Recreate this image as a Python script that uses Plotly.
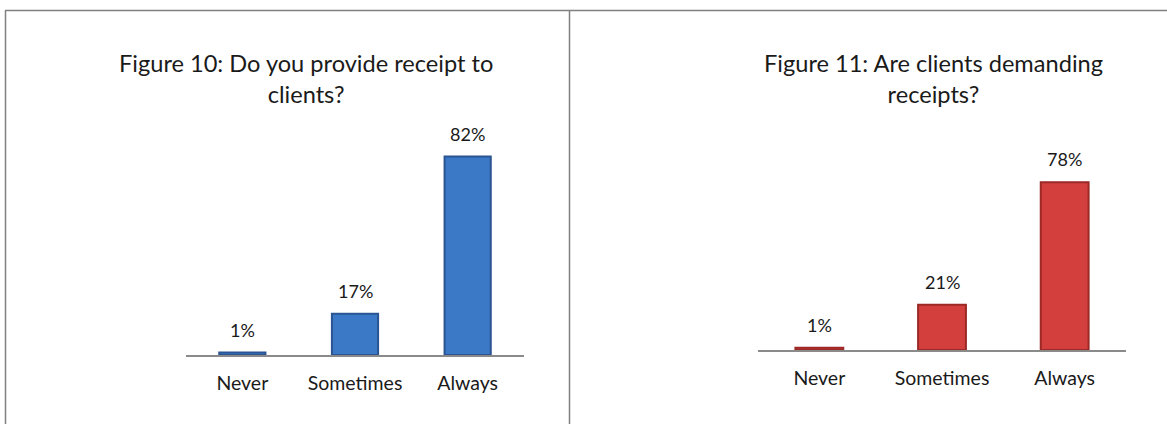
import plotly.graph_objects as go

# Survey responses (percent of respondents)
categories = ["Never", "Sometimes", "Always"]
provide_receipt = [1, 17, 82]
clients_demand = [1, 21, 78]

title_left = "Figure 10: Do you provide receipt to<br>clients?"
title_right = "Figure 11: Are clients demanding<br>receipts?"

W, H = 1167, 424
FONT = "Lato, 'Open Sans', sans-serif"
TXT = "#1a1a1a"
BORDER = "#808080"


def px_x(p):
    return p / W


def px_y(p):
    return 1 - p / H


fig = go.Figure()

fig.add_trace(go.Bar(
    x=categories, y=provide_receipt, xaxis="x", yaxis="y",
    marker=dict(color="#3b78c6", line=dict(color="#2a5592", width=2)),
    width=0.41, showlegend=False, hoverinfo="skip",
))
fig.add_trace(go.Bar(
    x=categories, y=clients_demand, xaxis="x2", yaxis="y2",
    marker=dict(color="#d23f3c", line=dict(color="#9c2926", width=2)),
    width=0.39, showlegend=False, hoverinfo="skip",
))

# value labels above each bar
for cat, v in zip(categories, provide_receipt):
    fig.add_annotation(x=cat, y=v, xref="x", yref="y", text=f"{v}%",
                       showarrow=False, yanchor="bottom", yshift=10,
                       font=dict(family=FONT, size=18, color=TXT))
for cat, v in zip(categories, clients_demand):
    fig.add_annotation(x=cat, y=v, xref="x2", yref="y2", text=f"{v}%",
                       showarrow=False, yanchor="bottom", yshift=10,
                       font=dict(family=FONT, size=18, color=TXT))

# chart titles
fig.add_annotation(x=px_x(306), y=px_y(47), xref="paper", yref="paper",
                   text=title_left, showarrow=False, xanchor="center", yanchor="top",
                   font=dict(family=FONT, size=23.6, color=TXT))
fig.add_annotation(x=px_x(933), y=px_y(47), xref="paper", yref="paper",
                   text=title_right, showarrow=False, xanchor="center", yanchor="top",
                   font=dict(family=FONT, size=23.6, color=TXT))

axis_common = dict(
    type="category", showgrid=False, zeroline=False, ticks="",
    showline=True, linecolor="#8a8a8a", linewidth=2,
    tickfont=dict(family=FONT, size=19.5, color=TXT), fixedrange=True,
)
yaxis_common = dict(visible=False, showgrid=False, zeroline=False, fixedrange=True)

fig.update_layout(
    width=W, height=H,
    margin=dict(l=0, r=0, t=0, b=0),
    paper_bgcolor="white", plot_bgcolor="white",
    bargap=0.6,
    xaxis=dict(domain=[px_x(186), px_x(524)], anchor="y",
               range=[-0.5, 2.5], ticklabelstandoff=10, **axis_common),
    yaxis=dict(domain=[px_y(355), px_y(155)], range=[0, 200 / 2.42], **yaxis_common),
    xaxis2=dict(domain=[px_x(758), px_x(1126)], anchor="y2",
                range=[-0.5, 2.5], ticklabelstandoff=10, **axis_common),
    yaxis2=dict(domain=[px_y(350), px_y(150)], range=[0, 200 / 2.15], **yaxis_common),
    shapes=[
        dict(type="line", xref="paper", yref="paper", x0=px_x(5), x1=1,
             y0=px_y(10.5), y1=px_y(10.5), line=dict(color=BORDER, width=1.5)),
        dict(type="line", xref="paper", yref="paper", x0=px_x(5.5), x1=px_x(5.5),
             y0=px_y(10.5), y1=0, line=dict(color=BORDER, width=1.5)),
        dict(type="line", xref="paper", yref="paper", x0=px_x(569.5), x1=px_x(569.5),
             y0=px_y(10.5), y1=0, line=dict(color=BORDER, width=1.5)),
    ],
)

fig.write_html("out.html")
